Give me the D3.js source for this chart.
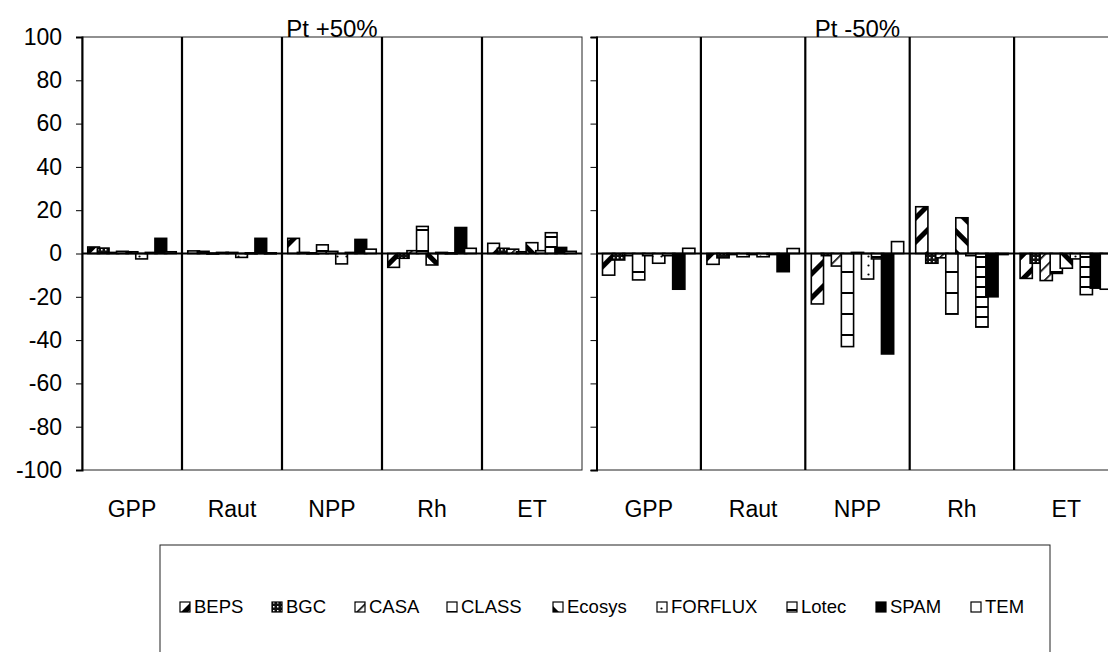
<!DOCTYPE html>
<html>
<head>
<meta charset="utf-8">
<script src="https://cdn.jsdelivr.net/npm/d3@7"></script>
<style>
  html, body { margin: 0; padding: 0; background: #fff; }
  svg { display: block; font-family: "Liberation Sans", Arial, sans-serif; }
</style>
</head>
<body>
<svg id="chart" width="1108" height="652"></svg>
<script>
const categories = ["GPP", "Raut", "NPP", "Rh", "ET"];
const models = ["BEPS", "BGC", "CASA", "CLASS", "Ecosys", "FORFLUX", "Lotec", "SPAM", "TEM"];
const panelTitles = ["Pt +50%", "Pt -50%"];
const yTicks = [-100, -80, -60, -40, -20, 0, 20, 40, 60, 80, 100];

// Pt +50%, one array per category, values in model order
const plusGPP = [3, 2.5, 0.5, 1, 0.8, -2.5, 0.5, 7, 0.8];
const plusRaut = [1.2, 1, 0.2, 0.5, 0.5, -1.8, 0.3, 7, 0.3];
const plusNPP = [7, 0.5, 0.3, 4, 1, -4.8, 0.5, 6.5, 2];
const plusRh = [-6.4, -2.2, 1.3, 12.5, -5.3, 0.5, 0.3, 12, 2.4];
const plusET = [4.7, 2.4, 2, 0.8, 5, 1.3, 9.6, 2.8, 1];

// Pt -50%
const minusGPP = [-10, -3, -1, -12.2, -1, -4.5, -1, -16.5, 2.4];
const minusRaut = [-5, -2, -0.5, -1.5, -0.5, -1.5, -0.5, -8.4, 2.3];
const minusNPP = [-23.3, -1, -5.8, -43, 0.5, -11.8, -2.5, -46.4, 5.5];
const minusRh = [21.6, -4.5, -2, -28, 16.5, -1, -34, -20, -0.5];
const minusET = [-11.5, -4.5, -12.5, -9.2, -6.8, -2.5, -19, -16, -16.5];

const panelValues = [
    [plusGPP, plusRaut, plusNPP, plusRh, plusET],
    [minusGPP, minusRaut, minusNPP, minusRh, minusET]
];

const svg = d3.select("#chart");
const defs = svg.append("defs");

// fill patterns, one per model (scanned black & white look)
const addPattern = (id, w, h, transform, draw) => {
    const p = defs.append("pattern")
        .attr("id", id)
        .attr("patternUnits", "userSpaceOnUse")
        .attr("width", w)
        .attr("height", h);
    if (transform) p.attr("patternTransform", transform);
    p.append("rect").attr("width", w).attr("height", h).attr("fill", "#fff");
    draw(p);
};

addPattern("p-BEPS", 17, 17, "rotate(45)", p => p.append("rect").attr("width", 5).attr("height", 17).attr("fill", "#000"));
addPattern("p-BGC", 4, 4, null, p => {
    p.append("rect").attr("width", 4).attr("height", 4).attr("fill", "#111");
    p.append("rect").attr("x", 1).attr("y", 1).attr("width", 1.5).attr("height", 1.5).attr("fill", "#fff");
});
addPattern("p-CASA", 9, 9, "rotate(45)", p => p.append("rect").attr("width", 1.6).attr("height", 9).attr("fill", "#000"));
addPattern("p-CLASS", 10, 21, null, p => p.append("rect").attr("y", 19).attr("width", 10).attr("height", 2).attr("fill", "#000"));
addPattern("p-Ecosys", 15, 15, "rotate(-45)", p => p.append("rect").attr("width", 5).attr("height", 15).attr("fill", "#000"));
addPattern("p-FORFLUX", 9, 9, null, p => p.append("circle").attr("cx", 4.5).attr("cy", 4.5).attr("r", 1.1).attr("fill", "#000"));
addPattern("p-Lotec", 10, 10, null, p => p.append("rect").attr("y", 6).attr("width", 10).attr("height", 2).attr("fill", "#000"));
addPattern("p-SPAM", 4, 4, null, p => p.append("rect").attr("width", 4).attr("height", 4).attr("fill", "#000"));
addPattern("p-TEM", 4, 4, null, () => {});

const fillOf = m => `url(#p-${m})`;

const plotTop = 37, plotBottom = 470;
const panelRanges = [[82, 582], [596.5, 1118.5]];

const y = d3.scaleLinear().domain([-100, 100]).range([plotBottom, plotTop]);

panelRanges.forEach((range, pi) => {
    const g = svg.append("g").attr("class", "panel");
    const x = d3.scaleBand().domain(categories).range(range).padding(0);
    const catW = x.bandwidth();
    const barW = catW * 0.117;
    const step = catW * 0.096;
    const margin = (catW - (8 * step + barW)) / 2;
    const xi = d3.scaleLinear().domain([0, models.length - 1]).range([margin, margin + 8 * step]);

    // frame
    g.append("rect")
        .attr("x", range[0]).attr("y", plotTop)
        .attr("width", range[1] - range[0]).attr("height", plotBottom - plotTop)
        .attr("fill", "none").attr("stroke", "#222").attr("stroke-width", 1);

    // bars, series order so later models sit on top
    models.forEach((m, mi) => {
        g.append("g").selectAll("rect")
            .data(categories.map((c, ci) => ({c, v: panelValues[pi][ci][mi]})))
            .join("rect")
            .attr("x", d => x(d.c) + xi(mi))
            .attr("y", d => y(Math.max(0, d.v)))
            .attr("width", barW)
            .attr("height", d => Math.max(1, Math.abs(y(d.v) - y(0))))
            .attr("fill", fillOf(m))
            .attr("stroke", "#000")
            .attr("stroke-width", 1.6);
    });

    // zero line
    g.append("line")
        .attr("x1", range[0]).attr("x2", range[1])
        .attr("y1", y(0)).attr("y2", y(0))
        .attr("stroke", "#000").attr("stroke-width", 2);

    // category dividers
    g.selectAll(".divider")
        .data(categories.slice(1))
        .join("line")
        .attr("class", "divider")
        .attr("x1", d => x(d)).attr("x2", d => x(d))
        .attr("y1", plotTop).attr("y2", plotBottom)
        .attr("stroke", "#000").attr("stroke-width", 2.2);

    // y axis
    const yAxis = d3.axisLeft(y).tickValues(yTicks).tickSize(6).tickPadding(14)
        .tickFormat(pi === 1 ? "" : d => String(d));
    const ya = g.append("g").attr("transform", `translate(${range[0]},0)`).call(yAxis);
    ya.select(".domain").attr("stroke", "#000").attr("stroke-width", 2);
    ya.selectAll(".tick line").attr("stroke", "#000").attr("stroke-width", 1);
    ya.selectAll(".tick text")
        .attr("font-size", 23).attr("fill", "#000")
        .attr("font-family", "Liberation Sans, Arial, sans-serif");

    // category labels
    g.selectAll(".cat")
        .data(categories)
        .join("text")
        .attr("class", "cat")
        .attr("x", d => x(d) + catW / 2)
        .attr("y", 517)
        .attr("text-anchor", "middle")
        .attr("font-size", 23)
        .text(d => d);

    // panel title
    g.append("text")
        .attr("x", (range[0] + range[1]) / 2)
        .attr("y", 37)
        .attr("text-anchor", "middle")
        .attr("font-size", 24)
        .text(panelTitles[pi]);
});

// legend
const legendItems = [180, 272, 355, 447, 553, 657, 787, 876, 971];
const legend = svg.append("g").attr("class", "legend");
legend.append("rect")
    .attr("x", 160).attr("y", 545)
    .attr("width", 890).attr("height", 120)
    .attr("fill", "#fff").attr("stroke", "#222").attr("stroke-width", 1);

const li = legend.selectAll(".item")
    .data(models)
    .join("g")
    .attr("class", "item")
    .attr("transform", (d, i) => `translate(${legendItems[i]},613)`);
li.append("rect")
    .attr("x", 0).attr("y", -11)
    .attr("width", 10).attr("height", 10)
    .attr("fill", d => fillOf(d))
    .attr("stroke", "#000").attr("stroke-width", 1.2);
li.append("text")
    .attr("x", 14).attr("y", 0)
    .attr("font-size", 18.5)
    .text(d => d);
</script>
</body>
</html>
